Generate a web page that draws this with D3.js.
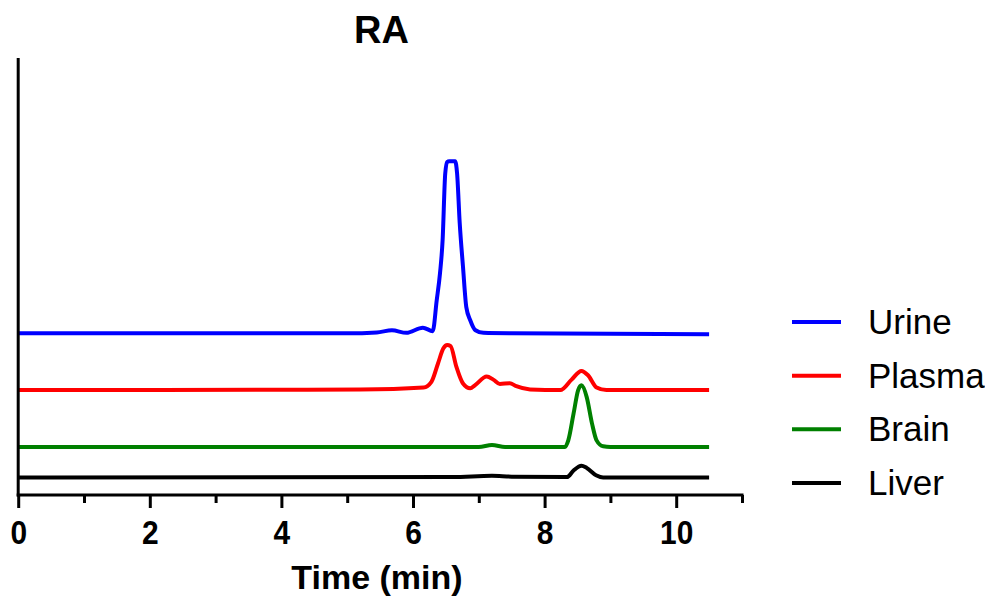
<!DOCTYPE html>
<html>
<head>
<meta charset="utf-8">
<script src="https://cdn.jsdelivr.net/npm/d3@7/dist/d3.min.js"></script>
<style>
  html, body { margin: 0; padding: 0; background: #fff; }
  svg { display: block; }
  text { font-family: "Liberation Sans", Arial, Helvetica, sans-serif; fill: #000; }
</style>
</head>
<body>
<svg id="chart" width="985" height="598"></svg>
<script>
// Chromatogram traces (time in min, detector signal above each trace's own baseline)
const seriesNames = ["Urine", "Plasma", "Brain", "Liver"];
const seriesColors = ["#0000ff", "#ff0000", "#008000", "#000000"];
// vertical offset of each trace's baseline (stacked display)
const seriesOffsets = [37, 24, 11, 4];

const urineTime   = [0, 5.0, 5.45, 5.68, 5.90, 6.15, 6.30, 6.36, 6.41, 6.45, 6.49, 6.52, 6.55, 6.64, 6.67, 6.71, 6.76, 6.81, 6.87, 6.95, 7.07, 7.5, 10.5];
const urineSignal = [0, 0, 0.2, 0.7, 0.1, 1.3, 0.5, 7.5, 13.7, 21.3, 36.6, 39.2, 39.4, 39.4, 36.6, 25.2, 15.2, 6.0, 3.0, 0.7, 0.1, 0, -0.2];

const plasmaTime   = [0, 4.0, 5.2, 6.16, 6.28, 6.38, 6.46, 6.52, 6.57, 6.66, 6.76, 6.87, 6.94, 7.12, 7.22, 7.32, 7.47, 7.57, 7.78, 8.24, 8.41, 8.56, 8.66, 8.79, 8.94, 10.5];
const plasmaSignal = [0, 0.1, 0.15, 0.6, 1.9, 6.1, 9.5, 10.3, 10.1, 5.3, 1.5, 0.4, 1.1, 3.1, 2.4, 1.4, 1.6, 0.9, 0.15, 0, 2.4, 4.4, 3.4, 0.6, 0, 0];

const brainTime   = [0, 7.0, 7.2, 7.4, 8.31, 8.36, 8.44, 8.51, 8.56, 8.64, 8.72, 8.79, 8.89, 9.0, 10.5];
const brainSignal = [0, 0, 0.45, 0, 0, 1.5, 7.6, 13.0, 14.1, 11.4, 5.4, 1.5, 0.15, 0, 0];

const liverTime   = [0, 6.6, 7.2, 7.5, 8.34, 8.44, 8.56, 8.64, 8.79, 8.89, 10.5];
const liverSignal = [0, 0.1, 0.4, 0.2, 0.1, 1.6, 2.7, 2.2, 0.45, 0, 0];

const xTicks = [0, 1, 2, 3, 4, 5, 6, 7, 8, 9, 10, 11];
const xTickLabels = ["0", "", "2", "", "4", "", "6", "", "8", "", "10", ""];

const chartTitle = "RA";
const xTitle = "Time (min)";

const traceTimes = [urineTime, plasmaTime, brainTime, liverTime];
const traceSignals = [urineSignal, plasmaSignal, brainSignal, liverSignal];

const svg = d3.select("#chart");
const fontStack = '"Liberation Sans", Arial, Helvetica, sans-serif';

const x = d3.scaleLinear().domain([0, 11]).range([18.2, 742]);
const y = d3.scaleLinear().domain([0, 100]).range([495, 58]);

// traces
const line = d3.line()
  .x(d => x(d[0]))
  .y(d => y(d[1]))
  .curve(d3.curveMonotoneX);

const traces = seriesNames.map((name, i) => ({
  name,
  color: seriesColors[i],
  points: traceTimes[i].map((t, k) => [t, traceSignals[i][k] + seriesOffsets[i]])
}));

// draw bottom trace first so upper traces sit on top
svg.append("g").selectAll("path")
  .data(traces.slice().reverse())
  .join("path")
  .attr("d", d => line(d.points))
  .attr("fill", "none")
  .attr("stroke", d => d.color)
  .attr("stroke-width", 4)
  .attr("stroke-linejoin", "round")
  .attr("stroke-linecap", "butt");

// x axis
const xAxis = d3.axisBottom(x)
  .tickValues(xTicks)
  .tickFormat((d, i) => xTickLabels[i])
  .tickSizeOuter(0);

const gx = svg.append("g")
  .attr("transform", `translate(0,${y(0)})`)
  .call(xAxis);

gx.select(".domain")
  .attr("stroke", "#000")
  .attr("stroke-width", 3)
  .attr("d", `M${x(0) - 1.5},0H${x(11) + 1.5}`);

gx.selectAll(".tick line")
  .attr("stroke", "#000")
  .attr("stroke-width", 3)
  .attr("y2", d => (d % 2 === 0 ? 13 : 8));

gx.selectAll(".tick text")
  .attr("y", 49)
  .attr("dy", 0)
  .attr("transform", "scale(0.88,1)")
  .style("font-family", fontStack)
  .style("font-size", "34px")
  .style("font-weight", "bold")
  .attr("fill", "#000");

// y axis (no ticks)
const yAxis = d3.axisLeft(y).tickValues([]).tickSizeOuter(0);
const gy = svg.append("g")
  .attr("transform", `translate(${x(0)},0)`)
  .call(yAxis);
gy.select(".domain")
  .attr("stroke", "#000")
  .attr("stroke-width", 3)
  .attr("d", `M0,${y(100)}V${y(0) + 1.5}`);

// chart title
svg.append("text")
  .attr("x", 381.5)
  .attr("y", 43)
  .attr("text-anchor", "middle")
  .style("font-size", "38px")
  .style("font-weight", "bold")
  .text(chartTitle);

// x axis title
svg.append("text")
  .attr("x", 377)
  .attr("y", 589)
  .attr("text-anchor", "middle")
  .style("font-size", "34px")
  .style("font-weight", "bold")
  .text(xTitle);

// legend
const legendY = d3.scalePoint().domain(seriesNames).range([322, 483]);
const legend = svg.append("g").selectAll("g")
  .data(traces)
  .join("g")
  .attr("transform", d => `translate(0,${legendY(d.name)})`);

legend.append("line")
  .attr("x1", 792).attr("x2", 841)
  .attr("y1", 0).attr("y2", 0)
  .attr("stroke", d => d.color)
  .attr("stroke-width", 4);

legend.append("text")
  .attr("x", 868)
  .attr("y", 12)
  .style("font-size", "35px")
  .text(d => d.name);
</script>
</body>
</html>
